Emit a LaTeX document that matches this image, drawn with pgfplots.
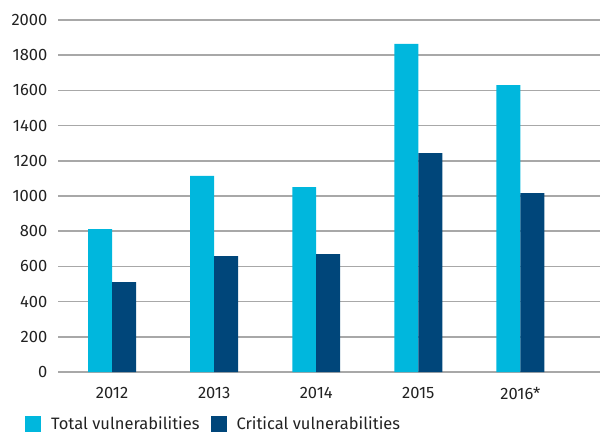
\documentclass[border=0pt]{standalone}
\usepackage{fontspec}
\setmainfont{Fira Sans}
\usepackage{pgfplots}
\pgfplotsset{compat=1.18}
\definecolor{cyanbar}{HTML}{00B7DD}
\definecolor{darkbar}{HTML}{00467A}
\definecolor{gridgray}{HTML}{A8A8A8}
\definecolor{txt}{HTML}{222222}
\begin{document}
\fontsize{16.5bp}{19bp}\selectfont
\begin{tikzpicture}[font=\fontsize{16.5bp}{19bp}\selectfont]
\begin{axis}[name=ax, scale only axis, width=542bp, height=352bp,
 xmin=-0.53, xmax=4.78, ymin=0, ymax=2000,
 ytick={0,200,...,2000}, xtick={0,...,4}, xticklabels={2012,2013,2014,2015,2016*},
 ymajorgrids, major grid style={gridgray, line width=1.5bp},
 axis line style={draw=none}, major tick length=0pt,
 ybar, bar width=0.235,
 /pgf/number format/assume math mode=true, /pgf/number format/set thousands separator={},
 tick label style={font=\fontsize{16.5bp}{19bp}\selectfont, text=txt},
 yticklabel style={xshift=-5bp},
 xticklabel style={yshift=-10bp},
 legend style={at={(axis description cs:0,0)}, anchor=north west, xshift=-33bp, yshift=-42bp,
   draw=none, fill=none, inner sep=0pt, legend columns=2, text=txt,
   font=\fontsize{16.5bp}{19bp}\selectfont,
   /tikz/every even column/.append style={column sep=9bp}, legend cell align=left},
 legend image code/.code={\fill[#1] (0bp,-8bp) rectangle (16bp,8bp); \path (24bp,0bp);},
]
\addplot[draw=none, fill=cyanbar, bar shift=-0.1175] coordinates {(0,812) (1,1114) (2,1051) (3,1864) (4,1630)};
\addlegendentry{Total vulnerabilities}
\addplot[draw=none, fill=darkbar, bar shift=0.1175] coordinates {(0,511) (1,659) (2,670) (3,1244) (4,1017)};
\addlegendentry{Critical vulnerabilities}
\end{axis}
\pgfresetboundingbox
\path[use as bounding box] ([shift={(-58bp,-60bp)}]ax.south west) rectangle ([shift={(0bp,20bp)}]ax.north east);
\end{tikzpicture}
\end{document}
